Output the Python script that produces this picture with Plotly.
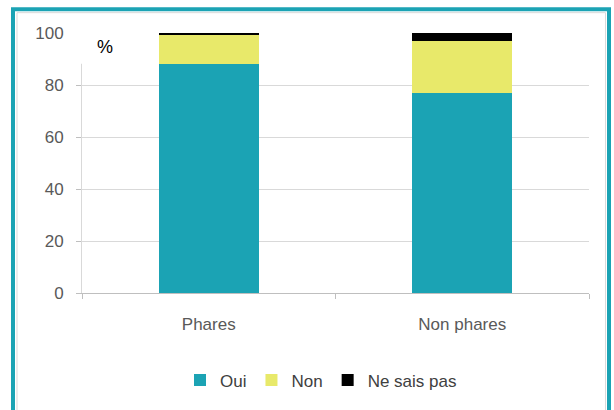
import plotly.graph_objects as go

categories = ["Phares", "Non phares"]
oui = [88, 77]
non = [11.3, 20]
nsp = [0.7, 3]
series_names = ["Oui", "Non", "Ne sais pas"]
colors = ["#1BA3B4", "#E8E96A", "#000000"]

W, H = 614, 410
L, R, T, B = 82, 25, 33, 115
pw, ph = W - L - R, H - T - B

def px_x(x):
    return (x - L) / pw

def px_y(y):
    return (H - B - y) / ph

fig = go.Figure()
for name, vals, col in zip(series_names, [oui, non, nsp], colors):
    fig.add_trace(go.Bar(x=categories, y=vals, name=name,
                         marker=dict(color=col, line=dict(width=0)),
                         width=0.395))

font = "Liberation Sans, Arial, sans-serif"
fig.update_layout(
    width=W, height=H, barmode="stack",
    margin=dict(l=L, r=R, t=T, b=B),
    paper_bgcolor="white", plot_bgcolor="white",
    font=dict(family=font, size=17, color="#595959"),
    showlegend=True,
    legend=dict(orientation="h", x=px_x(180), xanchor="left", y=px_y(383), yanchor="middle",
                font=dict(size=17, color="#404040"), itemwidth=30, traceorder="normal",
                itemclick=False, bgcolor="rgba(0,0,0,0)"),
    xaxis=dict(showline=True, linecolor="#BFBFBF", linewidth=1, ticks="outside",
               tickson="boundaries", ticklen=5, tickcolor="#BFBFBF",
               tickfont=dict(size=17, color="#595959"), showgrid=False,
               ticklabelstandoff=16),
    yaxis=dict(range=[0, 100], dtick=20, showline=True, linecolor="#D9D9D9", linewidth=1,
               ticks="outside", ticklen=5, tickcolor="#BFBFBF",
               gridcolor="#D9D9D9", gridwidth=1, zeroline=False,
               ticklabelstandoff=9,
               tickfont=dict(size=17, color="#595959")),
    shapes=[
        dict(type="rect", xref="paper", yref="paper",
             x0=px_x(70), x1=px_x(136), y0=px_y(64), y1=px_y(12),
             fillcolor="white", line=dict(width=0), layer="above"),
        dict(type="rect", xref="paper", yref="paper",
             x0=px_x(17), x1=px_x(605.5), y0=px_y(420), y1=px_y(12.5),
             fillcolor="rgba(0,0,0,0)", line=dict(color="#D9D9D9", width=1), layer="above"),
        dict(type="rect", xref="paper", yref="paper",
             x0=px_x(13), x1=px_x(609), y0=px_y(420), y1=px_y(9),
             fillcolor="rgba(0,0,0,0)", line=dict(color="#1BA3B4", width=4), layer="above"),
    ],
    annotations=[
        dict(text="%", xref="paper", yref="paper", x=px_x(95), y=px_y(35),
             showarrow=False, font=dict(size=18, color="#000000", family="Liberation Sans, Arial, sans-serif"))
    ],
)
fig.write_html("out.html", config={"displayModeBar": False},
               post_script="document.body.style.margin='0';document.body.style.overflow='hidden';")
